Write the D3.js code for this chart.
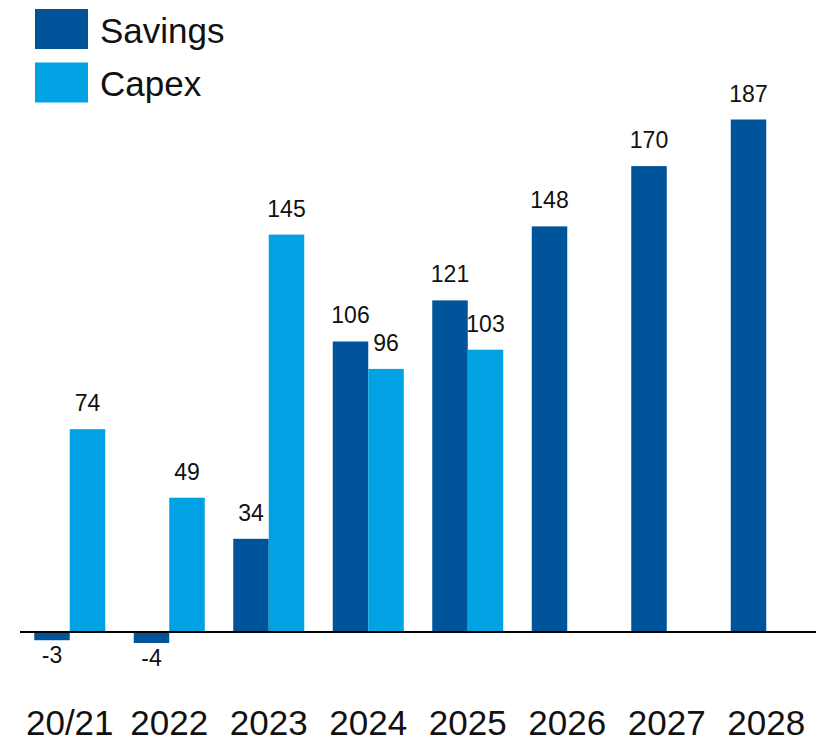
<!DOCTYPE html>
<html><head><meta charset="utf-8">
<script src="https://cdn.jsdelivr.net/npm/d3@7"></script>
<style>body{margin:0;background:#fff}svg{display:block}text{font-family:"Liberation Sans",Arial,sans-serif;fill:#111}</style>
</head><body>
<svg id="c" width="833" height="741"></svg>
<script>
const categories = ["20/21","2022","2023","2024","2025","2026","2027","2028"];
const savings = [-3,-4,34,106,121,148,170,187];
const capex = [74,49,145,96,103,null,null,null];
const seriesNames = ["Savings","Capex"];
const colors = {Savings:"#00559A", Capex:"#00A2E4"};

const svg = d3.select("#c");
const x0 = d3.scaleBand().domain(categories).range([20,816]).padding(0);
const bw = x0.bandwidth();
const x1 = d3.scaleBand().domain(seriesNames).range([(bw-71)/2,(bw+71)/2]).padding(0);
const y = d3.scaleLinear().domain([0,187]).range([632,119.5]);

const data = [];
categories.forEach((c,i)=>{
  data.push({cat:c, s:"Savings", v:savings[i]});
  if (capex[i]!==null) data.push({cat:c, s:"Capex", v:capex[i]});
});

svg.selectAll("rect.bar").data(data).enter().append("rect")
  .attr("x",d=>x0(d.cat)+x1(d.s))
  .attr("width",x1.bandwidth())
  .attr("y",d=>y(Math.max(0,d.v)))
  .attr("height",d=>Math.abs(y(d.v)-y(0)))
  .attr("fill",d=>colors[d.s]);

svg.selectAll("text.val").data(data).enter().append("text")
  .attr("x",d=>x0(d.cat)+x1(d.s)+x1.bandwidth()/2)
  .attr("y",d=>d.v>=0 ? y(d.v)-18 : y(d.v)+23)
  .attr("text-anchor","middle")
  .style("font-size","23px")
  .text(d=>d.v);

svg.append("line").attr("x1",20).attr("x2",816).attr("y1",y(0)).attr("y2",y(0))
  .attr("stroke","#000").attr("stroke-width",2);

const xAxis = d3.axisBottom(x0).tickSize(0).tickPadding(0);
const gx = svg.append("g").attr("transform","translate(0,735)").call(xAxis);
gx.select(".domain").remove();
gx.selectAll("text").attr("dy",0).attr("y",0).style("font-size","35px").style("font-family",'"Liberation Sans",Arial,sans-serif').attr("fill","#111");

const leg = svg.append("g");
seriesNames.forEach((s,i)=>{
  leg.append("rect").attr("x",35).attr("y",9+i*53.5).attr("width",53).attr("height",40).attr("fill",colors[s]);
  leg.append("text").attr("x",100).attr("y",43+i*53).style("font-size","35px").text(s);
});
</script>
</body></html>
